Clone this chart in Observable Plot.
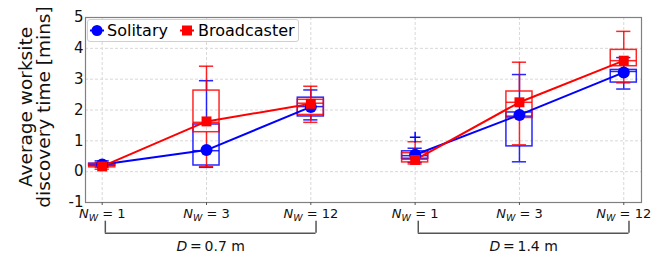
<!DOCTYPE html>
<html><head><meta charset="utf-8">
<script src="https://cdn.jsdelivr.net/npm/d3@7"></script>
<script src="https://cdn.jsdelivr.net/npm/@observablehq/plot@0.6"></script>
<style>
body{margin:0;background:#fff;}
#wrap{position:relative;width:672px;height:259px;font-family:"DejaVu Sans",sans-serif;}
#legend{position:absolute;left:87px;top:19px;width:212px;height:23px;border:1px solid #d0d0d0;border-radius:3px;background:rgba(255,255,255,0.85);box-sizing:border-box;}
#legend .it{position:absolute;top:0;height:21px;line-height:21px;font-size:16px;color:#000;white-space:nowrap;}
#legend svg{position:absolute;top:0;}
</style></head><body><div id="wrap"></div>
<script>
// ---- data ----
const nwLabels = ["1", "3", "12", "1", "3", "12"];
const distances = ["0.7", "1.4"];
const groupOf = [0, 0, 0, 1, 1, 1];
const seriesNames = ["Solitary", "Broadcaster"];
const seriesColors = ["#0000ff", "#ff0000"];
const yTicks = [-1, 0, 1, 2, 3, 4, 5];

const solMean   = [0.23, 0.70, 2.10, 0.55, 1.84, 3.22];
const solMedian = [0.22, 0.68, 2.11, 0.52, 1.80, 3.25];
const solQ1     = [0.19, 0.20, 1.79, 0.42, 0.82, 2.89];
const solQ3     = [0.26, 1.53, 2.40, 0.66, 1.92, 3.30];
const solLo     = [0.15, 0.14, 1.68, 0.30, 0.32, 2.68];
const solHi     = [0.35, 2.95, 2.65, 0.76, 3.15, 3.70];
const solOutliers = [{i: 3, v: 1.12}];

const brMean   = [0.17, 1.63, 2.20, 0.38, 2.25, 3.60];
const brMedian = [0.20, 1.60, 2.22, 0.40, 2.25, 3.60];
const brQ1     = [0.14, 1.28, 1.84, 0.30, 1.74, 3.42];
const brQ3     = [0.25, 2.63, 2.33, 0.60, 2.60, 3.95];
const brLo     = [0.08, 0.16, 1.60, 0.25, 0.87, 2.88];
const brHi     = [0.30, 3.42, 2.77, 0.97, 3.55, 4.55];

// ---- layout constants ----
const boxHalf = 0.125, capHalf = 0.068;
const bracketTop = -1.606, bracketBottom = -1.996, bracketText = -2.42;

function rowsFor(s, mean, med, q1, q3, lo, hi) {
  return mean.map((m, i) => ({s, x: i, g: groupOf[i], mean: m, median: med[i], q1: q1[i], q3: q3[i], lo: lo[i], hi: hi[i]}));
}
const sol = rowsFor(0, solMean, solMedian, solQ1, solQ3, solLo, solHi);
const br = rowsFor(1, brMean, brMedian, brQ1, brQ3, brLo, brHi);
const xs = d3.range(nwLabels.length);

function boxMarks(rows, color) {
  const o = {stroke: color, strokeWidth: 1.5, strokeOpacity: 0.85};
  return [
    Plot.ruleX(rows, {x: "x", y1: "lo", y2: "q1", ...o}),
    Plot.ruleX(rows, {x: "x", y1: "q3", y2: "hi", ...o}),
    Plot.ruleY(rows, {y: "lo", x1: d => d.x - capHalf, x2: d => d.x + capHalf, ...o}),
    Plot.ruleY(rows, {y: "hi", x1: d => d.x - capHalf, x2: d => d.x + capHalf, ...o}),
    Plot.rect(rows, {x1: d => d.x - boxHalf, x2: d => d.x + boxHalf, y1: "q1", y2: "q3", fill: "none", ...o}),
    Plot.ruleY(rows, {y: "median", x1: d => d.x - boxHalf, x2: d => d.x + boxHalf, ...o})
  ];
}

const groups = distances.map((d, gi) => {
  const idx = xs.filter(i => groupOf[i] === gi);
  return {label: d, a: d3.min(idx) + 0.03, b: d3.max(idx) + 0.05};
});

const chart = Plot.plot({
  width: 672, height: 259,
  marginLeft: 85, marginRight: 31, marginTop: 17, marginBottom: 57,
  x: {domain: [-0.16, 5.17], axis: null},
  y: {domain: [-1, 5], axis: null},
  style: {fontFamily: "DejaVu Sans", background: "transparent", overflow: "visible"},
  marks: [
    Plot.gridY(yTicks, {stroke: "#d8d8d8", strokeOpacity: 1, strokeDasharray: "3,2"}),
    Plot.gridX(xs, {stroke: "#d8d8d8", strokeOpacity: 1, strokeDasharray: "3,2"}),
    ...boxMarks(sol, seriesColors[0]),
    ...boxMarks(br, seriesColors[1]),
    Plot.line(sol, {x: "x", y: "mean", z: "g", stroke: seriesColors[0], strokeWidth: 2}),
    Plot.line(br, {x: "x", y: "mean", z: "g", stroke: seriesColors[1], strokeWidth: 2}),
    Plot.dot(solOutliers, {x: "i", y: "v", symbol: "plus", r: 3.5, stroke: seriesColors[0], strokeWidth: 1.5}),
    Plot.dot(sol, {x: "x", y: "mean", r: 6, fill: seriesColors[0], symbol: "circle"}),
    Plot.dot(br, {x: "x", y: "mean", r: 5.6, fill: seriesColors[1], symbol: "square"}),
    Plot.frame({stroke: "#808080", strokeWidth: 1.2}),
    Plot.axisY(yTicks, {tickSize: 0, tickPadding: 2, fontSize: 15, tickFormat: d => String(d), fill: "#111"}),
    Plot.axisX(xs, {tickSize: 3, tickPadding: 3, fontSize: 13, tickFormat: i => nwLabels[i], stroke: "#555", fill: "#111"}),
    // brackets
    Plot.ruleY(groups, {y: bracketBottom, x1: "a", x2: "b", stroke: "#555", strokeWidth: 1.5}),
    Plot.ruleX(groups, {x: "a", y1: bracketTop, y2: bracketBottom, stroke: "#555", strokeWidth: 1.5}),
    Plot.ruleX(groups, {x: "b", y1: bracketTop, y2: bracketBottom, stroke: "#555", strokeWidth: 1.5}),
    Plot.text(groups, {x: d => (d.a + d.b) / 2, y: bracketText, text: d => "D\u2009=\u2009" + d.label + " m", fontSize: 14, fill: "#111", className: "dlabel"})
  ]
});

const svg = d3.select(chart);
// subscript tick labels
svg.selectAll('g[aria-label="x-axis tick label"] text').each(function() {
  const v = this.textContent;
  const t = d3.select(this);
  t.text("");
  t.append("tspan").attr("font-style", "italic").text("N");
  t.append("tspan").attr("font-style", "italic").attr("font-size", "9.5px").attr("dy", "3").text("W");
  t.append("tspan").attr("dy", "-3").text(" = " + v);
});
svg.selectAll('.dlabel text').each(function() {
  const v = this.textContent;
  const t = d3.select(this);
  t.text("");
  t.append("tspan").attr("font-style", "italic").text(v.slice(0, 1));
  t.append("tspan").text(v.slice(1));
});
// y label (two lines)
const yl = svg.append("text")
  .attr("transform", "translate(0,107) rotate(-90)")
  .attr("text-anchor", "middle")
  .attr("font-family", "DejaVu Sans")
  .attr("font-size", "18.5px")
  .attr("fill", "#111");
yl.append("tspan").attr("x", 0).attr("y", 31.5).text("Average worksite");
yl.append("tspan").attr("x", 0).attr("y", 50).text("discovery time [mins]");

const wrap = document.getElementById("wrap");
wrap.appendChild(chart);

// legend overlay
const lg = document.createElement("div");
lg.id = "legend";
function handle(left, i) {
  const sym = i === 0
    ? `<circle cx="8" cy="10.5" r="5.5" fill="${seriesColors[0]}"/>`
    : `<rect x="3" y="5.5" width="10" height="10" fill="${seriesColors[1]}"/>`;
  return `<svg width="16" height="21" style="left:${left}px"><line x1="1" x2="15" y1="10.5" y2="10.5" stroke="${seriesColors[i]}" stroke-width="2"/>${sym}</svg>`;
}
lg.innerHTML = handle(1, 0) + `<span class="it" style="left:19px">${seriesNames[0]}</span>` +
               handle(91, 1) + `<span class="it" style="left:110px">${seriesNames[1]}</span>`;
wrap.appendChild(lg);
</script></body></html>
